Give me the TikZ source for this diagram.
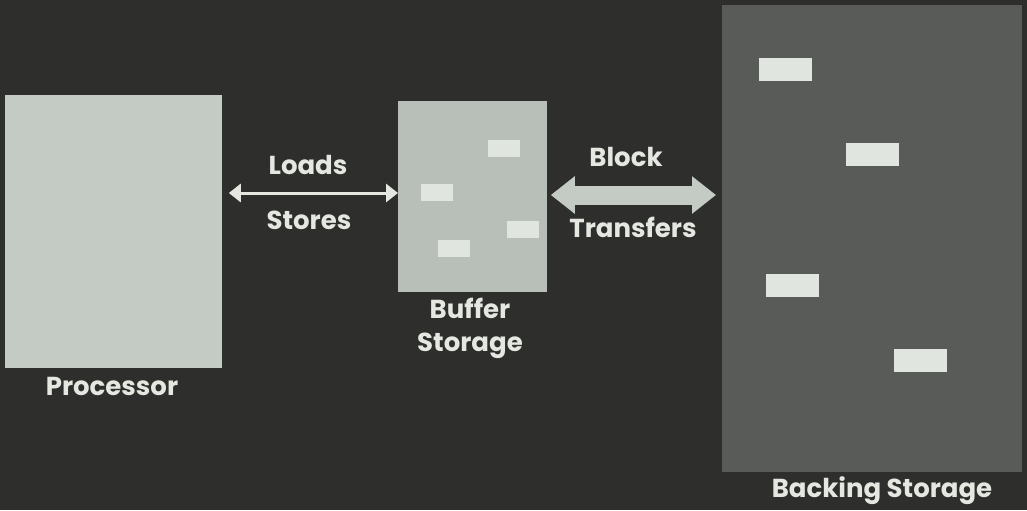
\documentclass[tikz,border=0pt]{standalone}
\usepackage{fontspec}
\setmainfont{Poppins}
\usepackage{tikz}
\usetikzlibrary{arrows.meta, positioning}
\definecolor{bgdark}{RGB}{46,47,45}
\definecolor{procfill}{RGB}{196,203,197}
\definecolor{buffill}{RGB}{184,191,185}
\definecolor{backfill}{RGB}{88,91,88}
\definecolor{slotfill}{RGB}{224,229,223}
\definecolor{captext}{RGB}{228,232,225}

\begin{document}
\begin{tikzpicture}[
    x=0.5pt, y=-0.5pt,
    unit/.style={rectangle, inner sep=0pt, anchor=north west},
    slot/.style={unit, fill=slotfill, minimum width=16pt, minimum height=8.5pt},
    bigslot/.style={unit, fill=slotfill, minimum width=26.5pt, minimum height=11.5pt},
    caption/.style={font=\bfseries\fontsize{13}{16.5}\selectfont, text=captext,
        inner sep=0pt, align=center},
    thinarr/.style={{Triangle[length=6pt,width=9pt]}-{Triangle[length=6pt,width=9pt]},
        line width=1.5pt, draw=captext, shorten <=3pt},
    fatarr/.style={{Triangle[length=12pt,width=18pt]}-{Triangle[length=12pt,width=18pt]},
        line width=9.5pt, draw=procfill, shorten <=1.5pt, shorten >=3pt}
]
\fill[bgdark] (0,0) rectangle (1027,510);
\useasboundingbox (0,0) rectangle (1027,510);

% the three units
\node[unit, fill=procfill, minimum width=108.5pt, minimum height=136.5pt] (proc) at (5,95) {};
\node[unit, fill=buffill, minimum width=74.5pt, minimum height=95.5pt] (buf) at (398,101) {};
\node[unit, fill=backfill, minimum width=150pt, minimum height=233.5pt] (back) at (722,5) {};

% blocks held in the buffer
\node[slot] (bs1) at (488,140) {};
\node[slot] (bs2) at (421,184) {};
\node[slot] (bs3) at (507,221) {};
\node[slot] (bs4) at (438,240) {};

% blocks on the backing store
\node[bigslot] (ks1) at (759,58) {};
\node[bigslot] (ks2) at (846,143) {};
\node[bigslot] (ks3) at (766,274) {};
\node[bigslot] (ks4) at (894,349) {};

% captions
\node[caption] (proclbl) at (112,386) {Processor};
\node[caption] (buflbl) at (470,328) {Buffer\\Storage};
\node[caption] (backlbl) at (882,491) {Backing Storage};

% connectors
\coordinate (ls) at (0,193);
\coordinate (bt) at (0,195);
\draw[thinarr] (proc.east |- ls) -- (buf.west |- ls);
\draw[fatarr] (buf.east |- bt) -- (back.west |- bt);
\node[caption] (loads) at (308,165) {Loads};
\node[caption] (stores) at (309,220) {Stores};
\node[caption] (block) at (626,157) {Block};
\node[caption] (transfers) at (633,227) {Transfers};
\end{tikzpicture}
\end{document}
